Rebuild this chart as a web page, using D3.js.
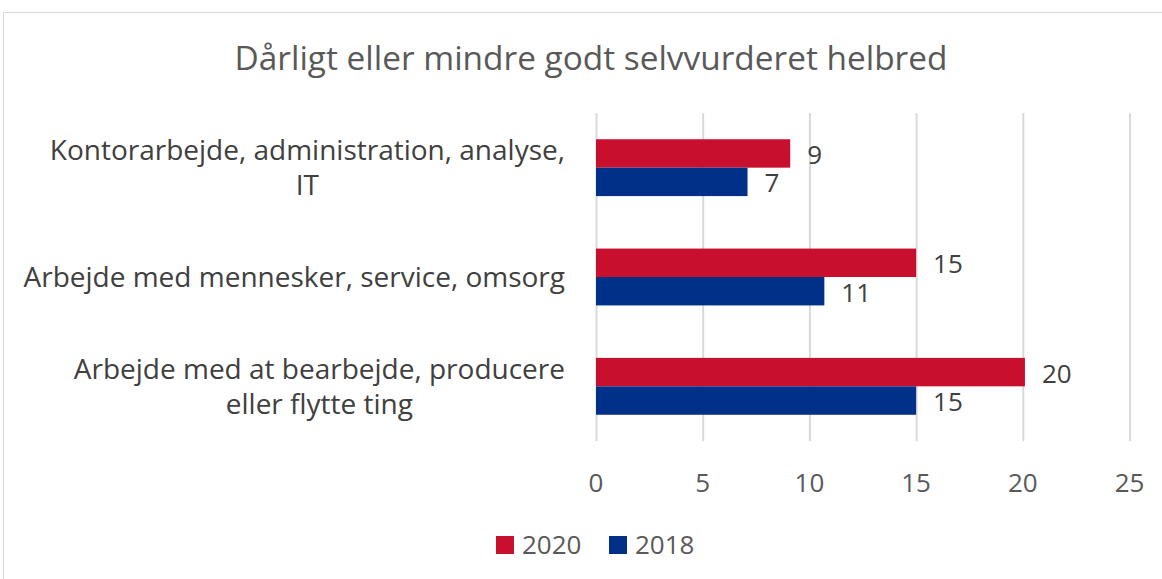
<!DOCTYPE html>
<html>
<head>
<meta charset="utf-8">
<script src="https://cdn.jsdelivr.net/npm/d3@7"></script>
<style>
  body { margin: 0; background: #fff; }
  svg { font-family: "Open Sans", sans-serif; }
</style>
</head>
<body>
<div id="chart"></div>
<script>
// Data
const categories = [
  ["Kontorarbejde, administration, analyse,", "IT"],
  ["Arbejde med mennesker, service, omsorg"],
  ["Arbejde med at bearbejde, producere", "eller flytte ting"]
];
const seriesNames = ["2020", "2018"];
const values2020 = [9.1, 15.0, 20.1];
const values2018 = [7.1, 10.7, 15.0];
const xTicks = [0, 5, 10, 15, 20, 25];
const title = "Dårligt eller mindre godt selvvurderet helbred";

const colors = {"2020": "#C8102E", "2018": "#003087"};

const W = 1162, H = 579;
const plot = {left: 596, right: 1129.5, top: 113, bottom: 441};

const svg = d3.select("#chart").append("svg")
  .attr("width", W)
  .attr("height", H);

// chart border
svg.append("rect")
  .attr("x", 3.5).attr("y", 12.5)
  .attr("width", W + 10).attr("height", H + 10)
  .attr("fill", "#fff")
  .attr("stroke", "#D9D9D9");

// title
svg.append("text")
  .attr("x", 591).attr("y", 70)
  .attr("text-anchor", "middle")
  .style("font-size", "33.4px")
  .style("fill", "#595959")
  .text(title);

const x = d3.scaleLinear().domain([0, 25]).range([plot.left, plot.right]);
const y = d3.scaleBand()
  .domain(d3.range(categories.length))
  .range([plot.top, plot.bottom])
  .paddingInner(0.48)
  .paddingOuter(0.24);
const ySub = d3.scaleBand().domain(seriesNames).range([0, y.bandwidth()]);

// gridlines
svg.append("g")
  .attr("transform", `translate(0,${plot.bottom})`)
  .call(d3.axisBottom(x).tickValues(xTicks).tickSize(-(plot.bottom - plot.top)).tickFormat(""))
  .call(g => g.select(".domain").remove())
  .call(g => g.selectAll(".tick line").attr("stroke", "#D9D9D9").attr("stroke-width", 2));

// tick labels
svg.append("g")
  .selectAll("text")
  .data(xTicks)
  .join("text")
    .attr("x", d => x(d))
    .attr("y", 492)
    .attr("text-anchor", "middle")
    .style("font-size", "26px")
    .style("fill", "#595959")
    .text(d => d);

// bars
const data = categories.map((c, i) => ({i: i, vals: [
  {name: "2020", value: values2020[i]},
  {name: "2018", value: values2018[i]}
]}));

const groups = svg.selectAll(".cat")
  .data(data)
  .join("g")
    .attr("class", "cat")
    .attr("transform", d => `translate(0,${y(d.i)})`);

groups.selectAll("rect")
  .data(d => d.vals)
  .join("rect")
    .attr("x", x(0))
    .attr("y", d => ySub(d.name))
    .attr("width", d => x(d.value) - x(0))
    .attr("height", ySub.bandwidth())
    .attr("fill", d => colors[d.name]);

groups.selectAll(".val")
  .data(d => d.vals)
  .join("text")
    .attr("class", "val")
    .attr("x", d => x(d.value) + 17)
    .attr("y", d => ySub(d.name) + ySub.bandwidth() / 2)
    .attr("dy", "0.4em")
    .style("font-size", "26px")
    .style("fill", "#404040")
    .text(d => Math.round(d.value));

// category labels
svg.append("g")
  .selectAll("text")
  .data(categories)
  .join("text")
    .attr("text-anchor", "middle")
    .style("font-size", "28px")
    .style("fill", "#404040")
    .each(function(lines, i) {
      const cy = y(i) + y.bandwidth() / 2;
      const lh = 35;
      const t = d3.select(this);
      lines.forEach((ln, k) => {
        t.append("tspan")
          .attr("x", 0)
          .attr("y", cy + (k - (lines.length - 1) / 2) * lh)
          .attr("dy", "0.36em")
          .text(ln);
      });
      // right align the widest line to x=565, center others on it
      const w = d3.max(t.selectAll("tspan").nodes(), n => n.getComputedTextLength());
      t.selectAll("tspan").attr("x", 565 - w / 2);
    });

// legend
const legend = svg.append("g").selectAll("g")
  .data(seriesNames)
  .join("g")
    .attr("transform", (d, i) => `translate(${496 + i * 113},536)`);
legend.append("rect")
  .attr("width", 18).attr("height", 18)
  .attr("fill", d => colors[d]);
legend.append("text")
  .attr("x", 26).attr("y", 9)
  .attr("dy", "0.36em")
  .style("font-size", "26px")
  .style("fill", "#595959")
  .text(d => d);
</script>
</body>
</html>
